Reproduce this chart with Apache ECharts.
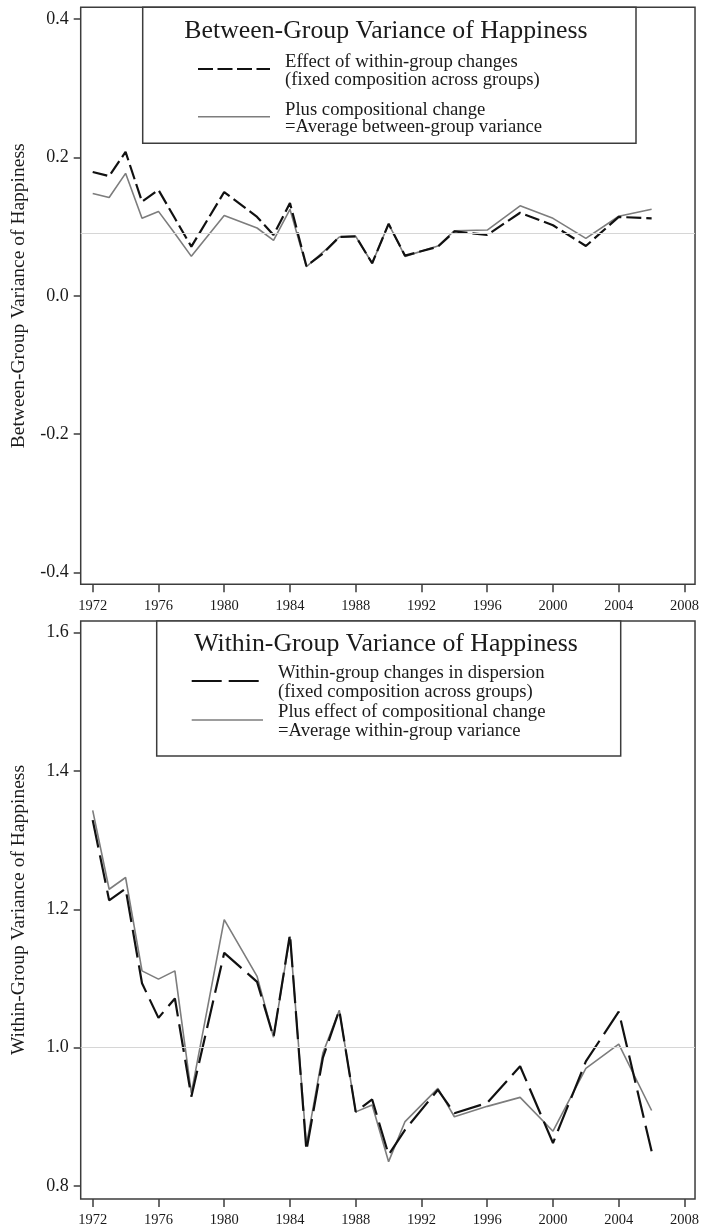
<!DOCTYPE html>
<html>
<head>
<meta charset="utf-8">
<script src="https://cdn.jsdelivr.net/npm/echarts@6/dist/echarts.min.js"></script>
<style>
html,body{margin:0;padding:0;background:#fff;}
#chart{width:702px;height:1230px;}
</style>
</head>
<body>
<div id="chart"></div>
<script>
// ---- data ----
var years = [1972,1973,1974,1975,1976,1977,1978,1980,1982,1983,1984,1985,1986,1987,1988,1989,1990,1991,1993,1994,1996,1998,2000,2002,2004,2006];

var betweenFixed = [0.179,0.173,0.208,0.136,0.153,0.112,0.071,0.150,0.114,0.088,0.134,0.043,0.061,0.085,0.086,0.047,0.104,0.058,0.071,0.093,0.088,0.120,0.102,0.072,0.114,0.112];
var betweenAvg   = [0.148,0.142,0.177,0.112,0.122,0.090,0.057,0.116,0.098,0.080,0.125,0.042,0.063,0.085,0.086,0.047,0.104,0.057,0.072,0.094,0.095,0.130,0.112,0.083,0.115,0.125];

var withinFixed = [1.329,1.213,1.230,1.093,1.043,1.071,0.929,1.137,1.095,1.015,1.164,0.851,0.985,1.054,0.907,0.925,0.845,0.881,0.939,0.905,0.920,0.973,0.862,0.980,1.052,0.850];
var withinAvg   = [1.343,1.229,1.246,1.111,1.099,1.111,0.934,1.185,1.103,1.015,1.161,0.859,0.992,1.054,0.907,0.917,0.835,0.893,0.941,0.900,0.915,0.928,0.879,0.970,1.005,0.909];

var betweenRef = 0.087;
var withinRef = 1.0;

var xTicks = [1972,1976,1980,1984,1988,1992,1996,2000,2004,2008];
var yTicksTop = [-0.4,-0.2,0.0,0.2,0.4];
var yTicksBottom = [0.8,1.0,1.2,1.4,1.6];

var topTitle = 'Between-Group Variance of Happiness';
var topLegend1 = ['Effect of within-group changes','(fixed composition across groups)'];
var topLegend2 = ['Plus compositional change','=Average between-group variance'];
var bottomTitle = 'Within-Group Variance of Happiness';
var bottomLegend1 = ['Within-group changes in dispersion','(fixed composition across groups)'];
var bottomLegend2 = ['Plus effect of compositional change','=Average within-group variance'];
var topYName = 'Between-Group Variance of Happiness';
var bottomYName = 'Within-Group Variance of Happiness';

// ---- chart ----
var FONT = "'Liberation Serif','Times New Roman',serif";
var TXT = '#1a1a1a';
var FRAME = '#3c3c3c';

function pairs(xs, ys){ return xs.map(function(x,i){ return [x, ys[i]]; }); }

function xAxisCfg(gi){
  return {
    type:'value', gridIndex:gi, min:1971.27, max:2008.64,
    axisLine:{show:false, onZero:false},
    axisTick:{show:true, customValues:xTicks, length:8, lineStyle:{color:FRAME, width:1.5}},
    axisLabel:{customValues:xTicks, fontFamily:FONT, fontSize:14.5, color:TXT, margin:14,
      formatter:function(v){ return String(Math.round(v)); }},
    splitLine:{show:false}
  };
}
function yAxisCfg(gi, mn, mx, ticks, name){
  return {
    type:'value', gridIndex:gi, min:mn, max:mx,
    name:name, nameLocation:'middle', nameGap:52, nameRotate:90,
    nameTextStyle:{fontFamily:FONT, fontSize:19.5, color:TXT},
    axisLine:{show:false, onZero:false},
    axisTick:{show:true, customValues:ticks, length:7, lineStyle:{color:FRAME, width:1.5}},
    axisLabel:{customValues:ticks, fontFamily:FONT, fontSize:18, color:TXT, margin:12,
      formatter:function(v){ return Number(v).toFixed(1); }},
    splitLine:{show:false}
  };
}
function refLine(val){
  return {silent:true, symbol:'none', label:{show:false},
    lineStyle:{color:'#d6d6d6', width:1.2, type:'solid'}, data:[{yAxis:val}]};
}

var GRAY = '#7d7d7d';
var series = [
  {type:'line', xAxisIndex:0, yAxisIndex:0, data:pairs(years,betweenAvg), symbol:'none',
   lineStyle:{color:GRAY, width:1.6}, markLine:refLine(betweenRef), z:2},
  {type:'line', xAxisIndex:0, yAxisIndex:0, data:pairs(years,betweenFixed), symbol:'none',
   lineStyle:{color:'#111', width:2.2, type:[15,5]}, z:3},
  {type:'line', xAxisIndex:1, yAxisIndex:1, data:pairs(years,withinAvg), symbol:'none',
   lineStyle:{color:GRAY, width:1.6}, markLine:refLine(withinRef), z:2},
  {type:'line', xAxisIndex:1, yAxisIndex:1, data:pairs(years,withinFixed), symbol:'none',
   lineStyle:{color:'#111', width:2.2, type:[28,8]}, z:3}
];

function txt(x, y, s, size, align){
  return {type:'text', z:100, style:{x:x, y:y, text:s, fontFamily:FONT, fontSize:size,
    fill:TXT, textAlign:align||'left', textVerticalAlign:'middle'}};
}
function box(x1,y1,x2,y2){
  return {type:'rect', z:99, shape:{x:x1,y:y1,width:x2-x1,height:y2-y1},
    style:{fill:'#fff', stroke:FRAME, lineWidth:1.5}};
}
function seg(x1,y1,x2,y2,color,w,dash){
  return {type:'line', z:100, shape:{x1:x1,y1:y1,x2:x2,y2:y2},
    style:{stroke:color, lineWidth:w, lineDash:dash||null}};
}

var LF = 18.7;
var graphic = [
  box(142.7,7.3,636,143.3),
  txt(386,31.7,topTitle,25.8,'center'),
  seg(198,69,270,69,'#111',2.2,[15,4.5]),
  txt(285,61.7,topLegend1[0],LF),
  txt(285,80,topLegend1[1],LF),
  seg(198,116.7,270,116.7,GRAY,1.6),
  txt(285,110,topLegend2[0],LF),
  txt(285,127.3,topLegend2[1],LF),

  box(156.7,621,620.7,756),
  txt(386,644,bottomTitle,25.8,'center'),
  seg(191.7,681,259,681,'#111',2.2,[30,7]),
  txt(278,673,bottomLegend1[0],LF),
  txt(278,692,bottomLegend1[1],LF),
  seg(191.7,720,263,720,GRAY,1.6),
  txt(278,712,bottomLegend2[0],LF),
  txt(278,730.7,bottomLegend2[1],LF)
];

var chart = echarts.init(document.getElementById('chart'), null, {renderer:'canvas'});
chart.setOption({
  animation:false,
  backgroundColor:'#fff',
  grid:[
    {left:80.7, right:5.5, top:7.3, height:577, show:true, borderColor:FRAME, borderWidth:1.5, backgroundColor:'transparent'},
    {left:80.7, right:5.5, top:621, height:578, show:true, borderColor:FRAME, borderWidth:1.5, backgroundColor:'transparent'}
  ],
  xAxis:[xAxisCfg(0), xAxisCfg(1)],
  yAxis:[yAxisCfg(0,-0.417,0.417,yTicksTop,topYName), yAxisCfg(1,0.781,1.617,yTicksBottom,bottomYName)],
  series:series,
  graphic:graphic
});
</script>
</body>
</html>
